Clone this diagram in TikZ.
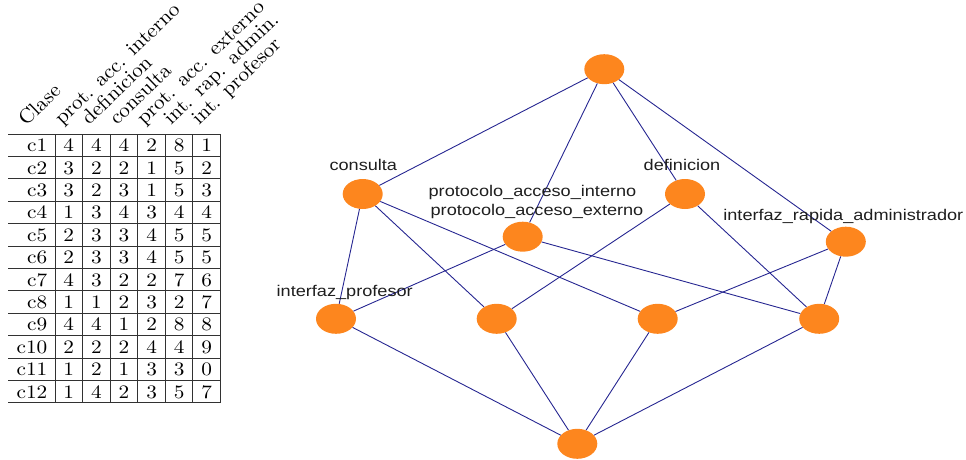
\documentclass[tikz,border=0pt]{standalone}
\usepackage{fontspec}
\usetikzlibrary{shapes.geometric}
\newfontfamily\labfont[FakeStretch=1.17]{Liberation Sans}
\newfontfamily\tabfont[FakeStretch=1.12]{lmroman10-regular.otf}
\newfontfamily\hdrfont[FakeStretch=1.05]{lmroman10-regular.otf}
\definecolor{vorange}{RGB}{253,134,30}
\definecolor{edgeblue}{RGB}{38,38,145}
\definecolor{labgray}{RGB}{30,30,30}
\definecolor{gridgray}{RGB}{50,50,50}
\begin{document}
\begin{tikzpicture}[x=1pt,y=-1pt,
  vtx/.style={ellipse, fill=vorange, minimum width=40pt, minimum height=30pt, inner sep=0pt},
  edge/.style={draw=edgeblue, line width=0.9pt},
  lab/.style={font=\labfont\fontsize{15.5}{18}\selectfont, text=labgray, anchor=base, inner sep=0pt},
  cell/.style={font=\tabfont\fontsize{19}{22}\selectfont, anchor=base, inner sep=0pt},
  rowlab/.style={font=\tabfont\fontsize{19}{22}\selectfont, anchor=base east, inner sep=0pt},
  hdr/.style={font=\hdrfont\fontsize{20.3}{24}\selectfont, anchor=base west, rotate=44, inner sep=0pt},
  gridline/.style={draw=gridgray, line width=1pt}]
\useasboundingbox (0,0) rectangle (966,460);

% ---------- table ----------
\foreach \k in {0,...,12} {
  \draw[gridline] (8,{134+22.4*\k}) -- (220.5,{134+22.4*\k});
}
\foreach \xx in {55,82.5,110,137.5,165,192.7,220.5} {
  \draw[gridline] (\xx,134) -- (\xx,402.8);
}
\foreach \r/\vals [count=\i] in {c1/{4,4,4,2,8,1}, c2/{3,2,2,1,5,2}, c3/{3,2,3,1,5,3},
   c4/{1,3,4,3,4,4}, c5/{2,3,3,4,5,5}, c6/{2,3,3,4,5,5}, c7/{4,3,2,2,7,6},
   c8/{1,1,2,3,2,7}, c9/{4,4,1,2,8,8}, c10/{2,2,2,4,4,9}, c11/{1,2,1,3,3,0},
   c12/{1,4,2,3,5,7}} {
  \node[rowlab] (r\i) at (47.5,{151.7+22.4*(\i-1)}) {\r};
  \foreach \v [count=\j] in \vals {
    \node[cell] (t\i-\j) at ({55+27.6*(\j-0.5)},{151.7+22.4*(\i-1)}) {\v};
  }
}
% headers
\node[hdr] (h0) at (26,127) {Clase};
\node[hdr] (h1) at (62,126) {prot. acc. interno};
\node[hdr] (h2) at (89,126) {definicion};
\node[hdr] (h3) at (117,126) {consulta};
\node[hdr] (h4) at (144,126) {prot. acc. externo};
\node[hdr] (h5) at (171,126) {int. rap. admin.};
\node[hdr] (h6) at (199,126) {int. profesor};

% ---------- lattice ----------
\node[vtx] (top) at (604.3,69.2) {};
\node[vtx] (cons) at (362.7,194) {};
\node[vtx] (proto) at (522.7,236.7) {};
\node[vtx] (defi) at (685,194) {};
\node[vtx] (irap) at (845.8,241.7) {};
\node[vtx] (iprof) at (336,318.8) {};
\node[vtx] (m2) at (496.7,318.8) {};
\node[vtx] (m3) at (657.7,318.8) {};
\node[vtx] (m4) at (819.2,318.8) {};
\node[vtx] (bot) at (577.3,443.8) {};

\draw[edge] (top) -- (cons);
\draw[edge] (top) -- (proto);
\draw[edge] (top) -- (defi);
\draw[edge] (top) -- (irap);
\draw[edge] (cons) -- (iprof);
\draw[edge] (cons) -- (m2);
\draw[edge] (cons) -- (m3);
\draw[edge] (proto) -- (iprof);
\draw[edge] (proto) -- (m4);
\draw[edge] (defi) -- (m2);
\draw[edge] (defi) -- (m4);
\draw[edge] (irap) -- (m3);
\draw[edge] (irap) -- (m4);
\draw[edge] (iprof) -- (bot);
\draw[edge] (m2) -- (bot);
\draw[edge] (m3) -- (bot);
\draw[edge] (m4) -- (bot);

% labels
\node[lab] (lcons) at (363.3,170.5) {consulta};
\node[lab] (ldefi) at (682,170.5) {definicion};
\node[lab] (lpi) at (532.5,196.5) {protocolo\_acceso\_interno};
\node[lab] (lpe) at (537,215) {protocolo\_acceso\_externo};
\node[lab] (lirap) at (843.3,220) {interfaz\_rapida\_administrador};
\node[lab] (liprof) at (344.7,296.7) {interfaz\_profesor};
\end{tikzpicture}
\end{document}
